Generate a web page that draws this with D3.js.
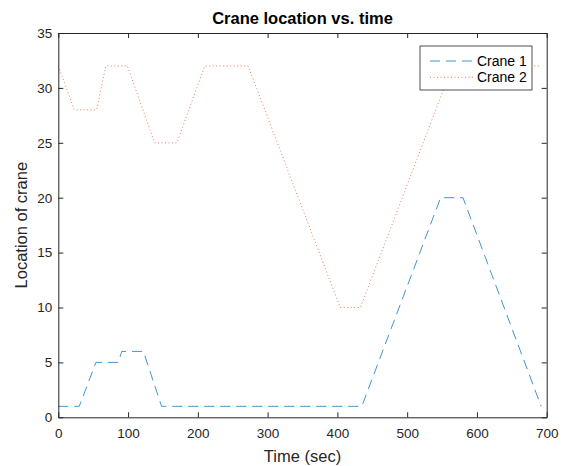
<!DOCTYPE html>
<html>
<head>
<meta charset="utf-8">
<script src="https://cdn.jsdelivr.net/npm/d3@7"></script>
<style>
  body { margin: 0; background: #fff; }
  svg { display: block; font-family: "Liberation Sans", Arial, sans-serif; }
</style>
</head>
<body>
<div id="chart"></div>
<script>
// Data
const crane1Time = [0, 30, 54, 86, 91, 122, 148, 435, 548, 580, 692];
const crane1Loc  = [1, 1, 5, 5, 6, 6, 1, 1, 20, 20, 1];
const crane2Time = [0, 23, 55, 68, 99, 138, 170, 210, 272, 404, 433, 565, 690];
const crane2Loc  = [32, 28, 28, 32, 32, 25, 25, 32, 32, 10, 10, 32, 32];
const xTicks = [0, 100, 200, 300, 400, 500, 600, 700];
const yTicks = [0, 5, 10, 15, 20, 25, 30, 35];
const seriesNames = ['Crane 1', 'Crane 2'];

function renderCraneChart() {
  const W = 565, H = 466;
  const left = 58.3, right = 546.7, top = 33, bottom = 417.3;
  const ink = '#262626';

  const svg = d3.select('#chart').append('svg')
    .attr('width', W).attr('height', H);

  const x = d3.scaleLinear().domain([0, 700]).range([left, right]);
  const y = d3.scaleLinear().domain([0, 35]).range([bottom, top]);

  // series lines
  const line = d3.line().x(d => x(d[0])).y(d => y(d[1]));
  const s1 = crane1Time.map((t, i) => [t, crane1Loc[i]]);
  const s2 = crane2Time.map((t, i) => [t, crane2Loc[i]]);
  const dashes = ['10,6', '1,2.5'];
  const colors = ['#0072BD', '#D95319'];

  [s1, s2].forEach((s, i) => {
    svg.append('path').datum(s)
      .attr('d', line).attr('fill', 'none')
      .attr('stroke', colors[i]).attr('stroke-width', 0.75)
      .attr('stroke-dasharray', dashes[i]);
  });

  // axes (box with inward ticks on all sides)
  const styleAxis = g => {
    g.attr('font-family', null);
    g.selectAll('path.domain').attr('stroke', ink);
    g.selectAll('line').attr('stroke', ink);
    g.selectAll('text').attr('fill', ink).style('font-size', '13.5px');
  };

  svg.append('g').attr('transform', `translate(0,${bottom})`)
    .call(d3.axisBottom(x).tickValues(xTicks).tickSizeInner(-5).tickSizeOuter(0).tickPadding(11))
    .call(styleAxis);
  svg.append('g').attr('transform', `translate(0,${top})`)
    .call(d3.axisTop(x).tickValues(xTicks).tickSizeInner(-5).tickSizeOuter(0).tickFormat(''))
    .call(styleAxis);
  svg.append('g').attr('transform', `translate(${left},0)`)
    .call(d3.axisLeft(y).tickValues(yTicks).tickSizeInner(-5).tickSizeOuter(0).tickPadding(6))
    .call(styleAxis);
  svg.append('g').attr('transform', `translate(${right},0)`)
    .call(d3.axisRight(y).tickValues(yTicks).tickSizeInner(-5).tickSizeOuter(0).tickFormat(''))
    .call(styleAxis);

  // title and labels
  svg.append('text')
    .attr('x', (left + right) / 2).attr('y', 24)
    .attr('text-anchor', 'middle')
    .style('font-size', '16.5px').style('font-weight', 'bold')
    .attr('fill', '#000')
    .text('Crane location vs. time');

  svg.append('text')
    .attr('x', (left + right) / 2).attr('y', 462)
    .attr('text-anchor', 'middle')
    .style('font-size', '16.5px').attr('fill', ink)
    .text('Time (sec)');

  svg.append('text')
    .attr('transform', `translate(27,${(top + bottom) / 2}) rotate(-90)`)
    .attr('text-anchor', 'middle')
    .style('font-size', '16.5px').attr('fill', ink)
    .text('Location of crane');

  // legend
  const lg = svg.append('g').attr('transform', 'translate(420,46)');
  lg.append('rect')
    .attr('width', 112).attr('height', 44)
    .attr('fill', '#fff').attr('stroke', ink).attr('stroke-width', 0.8);
  seriesNames.forEach((name, i) => {
    const cy = 15 + i * 16.3;
    lg.append('line')
      .attr('x1', 10).attr('x2', 55).attr('y1', cy).attr('y2', cy)
      .attr('stroke', colors[i]).attr('stroke-width', 0.75)
      .attr('stroke-dasharray', dashes[i]);
    lg.append('text')
      .attr('x', 57).attr('y', cy + 5)
      .style('font-size', '14px').attr('fill', '#000')
      .text(name);
  });
}

renderCraneChart();
</script>
</body>
</html>
